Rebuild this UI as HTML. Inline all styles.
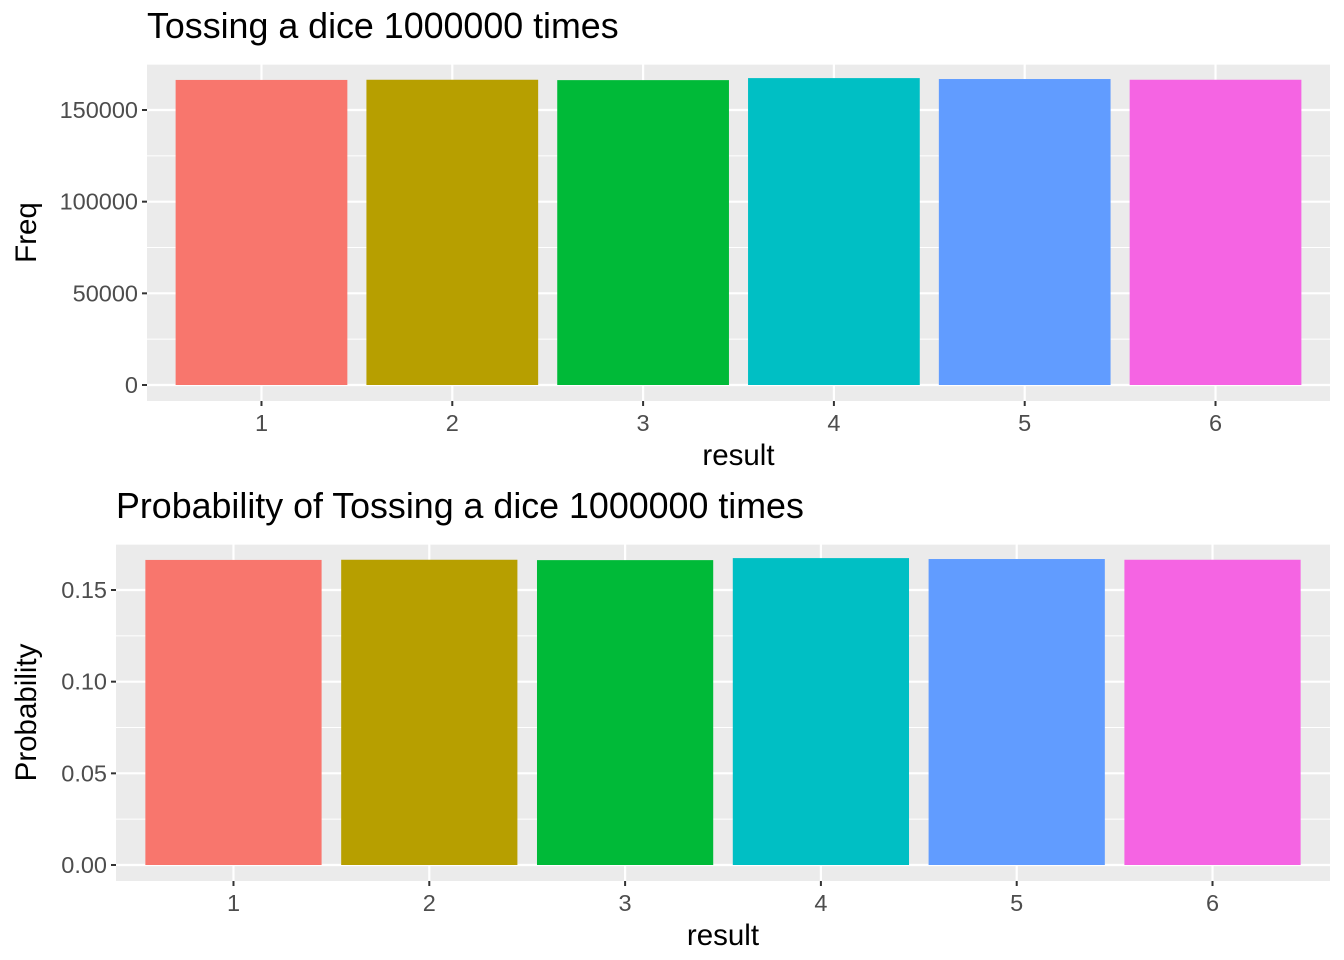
<!DOCTYPE html>
<html><head><meta charset="utf-8"><style>
body{margin:0;background:#fff;}
svg{display:block;font-family:"Liberation Sans",sans-serif;}
</style></head><body>
<svg id="chart" width="1344" height="960"></svg>
<script>
const categories = ["1","2","3","4","5","6"];
const freqValues = [166400, 166500, 166300, 167400, 166900, 166500];
const probValues = [0.1664, 0.1665, 0.1663, 0.1674, 0.1669, 0.1665];
const freqTicks = [0, 50000, 100000, 150000];
const freqTickLabels = ["0","50000","100000","150000"];
const probTicks = [0, 0.05, 0.10, 0.15];
const probTickLabels = ["0.00","0.05","0.10","0.15"];
const colors = ["#F8766D","#B79F00","#00BA38","#00BFC4","#619CFF","#F564E3"];

const NS = "http://www.w3.org/2000/svg";
const svg = document.getElementById("chart");
function mk(tag, attrs, parent){
  const e = document.createElementNS(NS, tag);
  for (const k in attrs) e.setAttribute(k, attrs[k]);
  (parent||svg).appendChild(e);
  return e;
}

function panel(p){
  const g = mk("g", {});
  
  
  const bg = mk("rect", {x:p.left, y:p.top, width:p.right-p.left, height:p.bottom-p.top, fill:"#EBEBEB"}, g);
  
  
  const n = categories.length;
  const unit = (p.right-p.left)/(n+0.2);
  const xs = i => p.left + unit*(0.6+i);
  const ys = v => p.y0 + (p.yRef - p.y0) * v / p.vRef;
  for (let i=0;i<p.ticks.length-1;i++){
    const y = ys((p.ticks[i]+p.ticks[i+1])/2);
    mk("line",{x1:p.left,x2:p.right,y1:y,y2:y,stroke:"#fff","stroke-width":1}, g);
  }
  const yTop = ys(p.ticks[p.ticks.length-1] + (p.ticks[1]-p.ticks[0])/2);
  if (yTop > p.top) mk("line",{x1:p.left,x2:p.right,y1:yTop,y2:yTop,stroke:"#fff","stroke-width":1}, g);
  p.ticks.forEach(t=>{
    const y = ys(t);
    mk("line",{x1:p.left,x2:p.right,y1:y,y2:y,stroke:"#fff","stroke-width":2.2}, g);
  });
  categories.forEach((c,i)=>{
    const x = xs(i);
    mk("line",{x1:x,x2:x,y1:p.top,y2:p.bottom,stroke:"#fff","stroke-width":2.2}, g);
  });
  p.values.forEach((v,i)=>{
    const x = xs(i) - unit*0.45;
    const r = mk("rect",{x:x, y:ys(v), width:unit*0.9, height:ys(0)-ys(v), fill:colors[i]}, g);
    
    
  });
  p.ticks.forEach((t,i)=>{
    const y = ys(t);
    mk("line",{x1:p.left-5,x2:p.left,y1:y,y2:y,stroke:"#333","stroke-width":2}, g);
    const tx = mk("text",{x:p.left-9,y:y+8,"text-anchor":"end","font-size":"23.5",fill:"#4D4D4D"}, g);
    tx.textContent = p.tickLabels[i];
    
    
  });
  categories.forEach((c,i)=>{
    const x = xs(i);
    mk("line",{x1:x,x2:x,y1:p.bottom,y2:p.bottom+5,stroke:"#333","stroke-width":2}, g);
    const tx = mk("text",{x:x,y:p.bottom+30,"text-anchor":"middle","font-size":"23.5",fill:"#4D4D4D"}, g);
    tx.textContent = c;
    
    
  });
  const xt = mk("text",{x:(p.left+p.right)/2,y:p.bottom+64,"text-anchor":"middle","font-size":"29.5",fill:"#000"}, g);
  xt.textContent = "result";
  
  
  const cy = (p.top+p.bottom)/2;
  const yt = mk("text",{x:0,y:0,"text-anchor":"middle","font-size":"29.5",fill:"#000",transform:`translate(36,${cy}) rotate(-90)`}, g);
  yt.textContent = p.yTitle;
  
  
  const tt = mk("text",{x:p.left,y:p.top-26,"font-size":"35.8",fill:"#000"}, g);
  tt.textContent = p.title;
  
  
}

panel({name:"freq-panel", left:147, right:1330, top:64, bottom:401, y0:385, yRef:110, vRef:150000,
  ticks:freqTicks, tickLabels:freqTickLabels, values:freqValues, yTitle:"Freq", title:"Tossing a dice 1000000 times"});
panel({name:"prob-panel", left:116, right:1330, top:544, bottom:881, y0:865, yRef:590, vRef:0.15,
  ticks:probTicks, tickLabels:probTickLabels, values:probValues, yTitle:"Probability", title:"Probability of Tossing a dice 1000000 times"});
</script>
</body></html>
